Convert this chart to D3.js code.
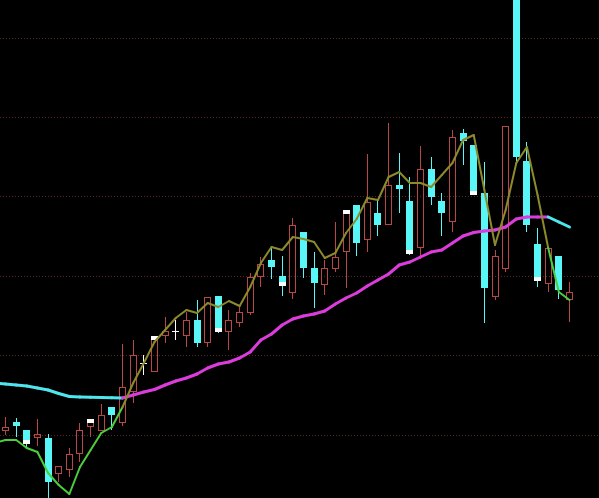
<!DOCTYPE html>
<html>
<head>
<meta charset="utf-8">
<script src="https://cdn.jsdelivr.net/npm/d3@7"></script>
<style>
html,body{margin:0;padding:0;background:#000;}
svg{display:block;}
</style>
</head>
<body>
<script>
// ---- data (prices) ----
const opens  = [10.69,10.78,10.70,10.62,10.62,10.26,10.30,10.46,10.73,10.69,10.93,10.77,11.08,11.37,11.28,11.64,11.69,11.64,11.80,11.57,12.04,11.68,11.77,11.87,12.23,12.40,12.24,12.07,12.68,12.32,12.15,12.31,12.48,12.95,12.60,12.87,12.75,13.15,12.99,12.52,13.31,12.99,12.78,13.67,13.55,13.07,12.03,12.31,15.40,13.39,12.56,12.16,12.44,12.00];
const highs  = [10.83,10.82,10.70,10.81,10.66,10.34,10.52,10.77,10.80,10.96,10.93,11.56,11.60,11.45,11.63,11.83,11.80,11.88,12.00,12.03,12.04,11.90,11.93,12.27,12.43,12.52,12.44,12.82,12.68,12.48,12.40,12.78,12.89,12.95,13.46,13.00,13.77,13.47,13.23,13.54,13.43,13.07,13.70,13.71,13.55,13.38,12.50,13.74,15.60,13.58,12.72,12.52,12.44,12.18];
const lows   = [10.65,10.63,10.53,10.54,10.00,10.18,10.23,10.38,10.63,10.69,10.70,10.74,10.97,11.25,11.28,11.57,11.60,11.53,11.53,11.53,11.67,11.50,11.73,11.85,12.13,12.21,12.04,12.01,12.22,11.92,12.05,12.28,12.12,12.44,12.48,12.64,12.75,12.87,12.45,12.41,12.95,12.64,12.68,13.35,13.05,11.77,12.00,12.28,13.35,12.68,12.13,12.08,12.01,11.78];
const closes = [10.73,10.74,10.59,10.66,10.18,10.34,10.46,10.70,10.78,10.85,10.85,11.13,11.45,11.37,11.61,11.69,11.69,11.80,11.57,12.03,11.71,11.80,11.88,12.23,12.36,12.33,12.17,12.75,12.32,12.17,12.32,12.43,12.87,12.57,12.98,12.75,13.15,13.11,12.49,13.31,13.03,12.87,13.63,13.59,13.08,12.12,12.44,13.74,13.43,12.75,12.22,12.52,12.10,12.08];
// short moving average (first value belongs to the bar before the first visible one)
const maShort = [10.57,10.60,10.60,10.52,10.48,10.27,10.15,10.06,10.33,10.50,10.67,10.73,10.93,11.17,11.37,11.58,11.70,11.82,11.90,11.87,11.97,11.93,11.99,11.94,12.13,12.37,12.53,12.50,12.63,12.61,12.58,12.42,12.47,12.67,12.81,13.02,13.00,13.23,13.28,13.17,13.17,13.13,13.25,13.37,13.60,13.65,13.10,12.55,12.90,13.37,13.53,13.05,12.52,12.08,12.00];
// long moving average (same alignment)
const maLong  = [11.17,11.16,11.15,11.14,11.12,11.10,11.065,11.035,11.03,11.027,11.024,11.022,11.02,11.05,11.08,11.105,11.15,11.19,11.22,11.26,11.32,11.36,11.38,11.42,11.48,11.60,11.66,11.75,11.81,11.84,11.86,11.89,11.96,12.02,12.07,12.14,12.20,12.26,12.35,12.38,12.43,12.48,12.50,12.57,12.64,12.675,12.69,12.70,12.73,12.81,12.83,12.83,12.83,12.78,12.73];
// bars carrying the white close marker (1-based)
const markedBars = [3,9,15,21,27,33,39,45,51];
// horizontal guide levels
const gridLevels = [10.65,11.445,12.24,13.035,13.83,14.625];

// ---- drawing ----
const W = 599, H = 498;
const UP = "#b84848", DOWN = "#58f6f6", DOJI = "#ffffff";
const svg = d3.select("body").append("svg").attr("width", W).attr("height", H)
  .style("background", "#000");

const x = d3.scaleLinear().domain([0, opens.length - 1]).range([5.5, 569.5]);
const y = d3.scaleLinear().domain([10.02, 15.0]).range([H, 0]);

svg.append("g").selectAll("line").data(gridLevels).join("line")
  .attr("x1", 0).attr("x2", W)
  .attr("y1", d => Math.round(y(d)) + 0.5).attr("y2", d => Math.round(y(d)) + 0.5)
  .attr("stroke", "#5a2622").attr("stroke-width", 1).attr("stroke-dasharray", "1,2");

const bars = opens.map((o, i) => ({i, o, h: highs[i], l: lows[i], c: closes[i]}));
const cxOf = i => Math.floor(x(i)) + 0.5;
const half = 3.5;

const g = svg.append("g");
bars.forEach(b => {
  const cx = cxOf(b.i);
  const yo = y(b.o), yc = y(b.c), yh = y(b.h), yl = y(b.l);
  if (b.c > b.o) {
    // up bar: hollow red
    const top = Math.round(yc), bot = Math.round(yo);
    if (yh < top) g.append("line").attr("x1", cx).attr("x2", cx).attr("y1", yh).attr("y2", top).attr("stroke", UP);
    if (yl > bot) g.append("line").attr("x1", cx).attr("x2", cx).attr("y1", bot).attr("y2", yl).attr("stroke", UP);
    g.append("rect").attr("x", cx - 3).attr("y", top + 0.5).attr("width", 6).attr("height", Math.max(1, bot - top - 1))
      .attr("fill", "none").attr("stroke", UP).attr("stroke-width", 1);
  } else if (b.c < b.o) {
    g.append("line").attr("x1", cx).attr("x2", cx).attr("y1", yh).attr("y2", yl).attr("stroke", DOWN);
    g.append("rect").attr("x", cx - half).attr("y", yo).attr("width", half * 2).attr("height", Math.max(1, yc - yo))
      .attr("fill", DOWN);
  } else {
    g.append("line").attr("x1", cx).attr("x2", cx).attr("y1", yh).attr("y2", yl).attr("stroke", DOJI);
    g.append("line").attr("x1", cx - half).attr("x2", cx + half).attr("y1", Math.round(yc) + 0.5).attr("y2", Math.round(yc) + 0.5).attr("stroke", DOJI);
  }
});

// white close markers
svg.append("g").selectAll("rect").data(markedBars).join("rect")
  .attr("x", d => cxOf(d - 1) - half).attr("width", half * 2).attr("height", 4)
  .attr("y", d => { const b = bars[d - 1]; return b.c > b.o ? y(b.c) - 3 : y(b.c) - 1; })
  .attr("fill", "#ffffff");

// moving averages: segment colours follow the long average's trend
const maX = i => x(i - 1);
const segs = d3.range(1, maLong.length).map(i => ({
  i, falling: maLong[i] < maLong[i - 1]
}));

svg.append("g").selectAll("line").data(segs).join("line")
  .attr("x1", d => maX(d.i - 1)).attr("y1", d => y(maLong[d.i - 1]))
  .attr("x2", d => maX(d.i)).attr("y2", d => y(maLong[d.i]))
  .attr("stroke", d => d.falling ? "#4fe6ee" : "#dc3cdc")
  .attr("stroke-width", 3).attr("stroke-linecap", "round");

svg.append("g").selectAll("line").data(segs).join("line")
  .attr("x1", d => maX(d.i - 1)).attr("y1", d => y(maShort[d.i - 1]))
  .attr("x2", d => maX(d.i)).attr("y2", d => y(maShort[d.i]))
  .attr("stroke", d => d.falling ? "#4ccf3c" : "#8c8a2c")
  .attr("stroke-width", 2).attr("stroke-linecap", "round");
</script>
</body>
</html>
